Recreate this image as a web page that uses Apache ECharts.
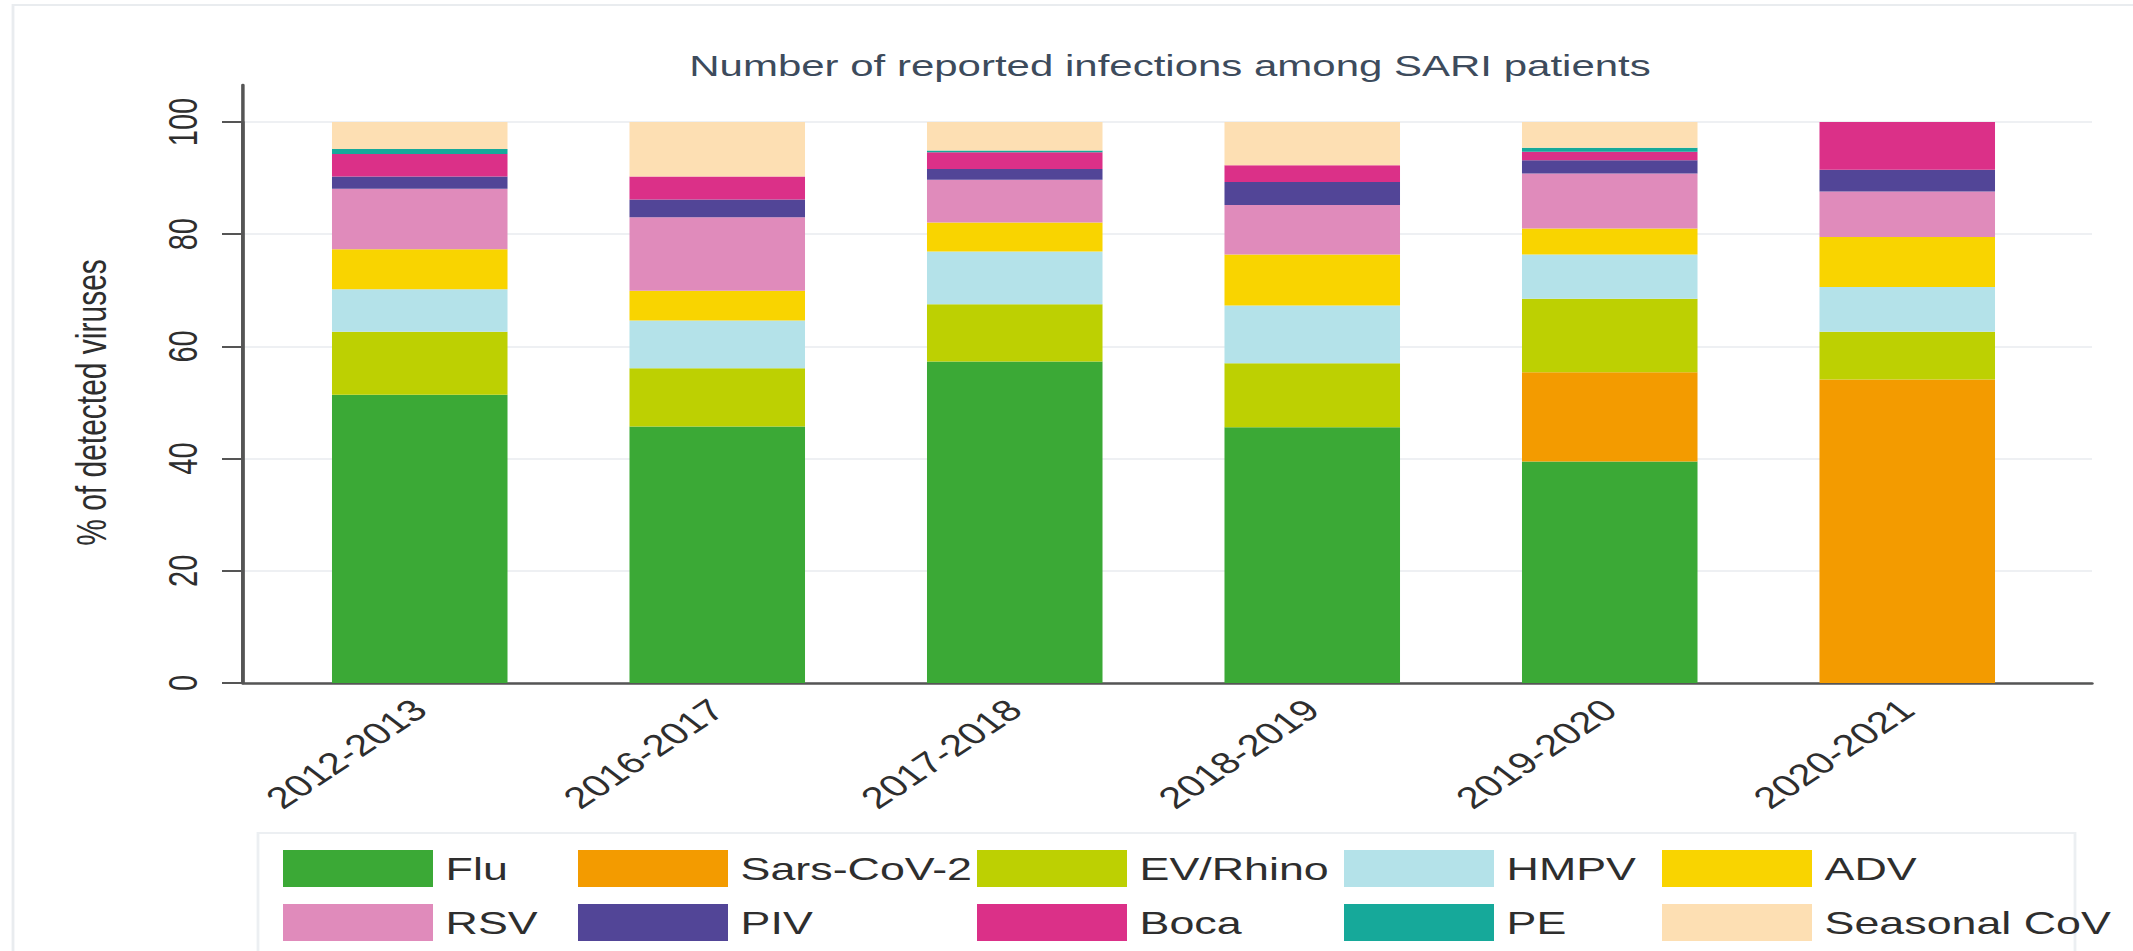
<!DOCTYPE html>
<html>
<head>
<meta charset="utf-8">
<script src="https://cdn.jsdelivr.net/npm/echarts@6/dist/echarts.min.js"></script>
<style>
html,body{margin:0;padding:0;background:#fff;overflow:hidden;width:2133px;height:951px;}
#chart{width:1524px;height:951px;transform:scaleX(1.4);transform-origin:0 0;}
</style>
</head>
<body>
<div id="chart"></div>
<script>
// ---- data ----
const seasons = ['2012-2013','2016-2017','2017-2018','2018-2019','2019-2020','2020-2021'];
const yTicks = [0, 20, 40, 60, 80, 100];
const flu      = [51.4, 45.7, 57.3, 45.6, 39.5, 0];
const sarsCoV2 = [0, 0, 0, 0, 15.9, 54.1];
const evRhino  = [11.2, 10.4, 10.2, 11.4, 13.1, 8.5];
const hmpv     = [7.6, 8.5, 9.4, 10.3, 7.9, 8.0];
const adv      = [7.1, 5.3, 5.2, 9.1, 4.6, 8.9];
const rsv      = [10.8, 13.1, 7.6, 8.8, 9.8, 8.1];
const piv      = [2.2, 3.2, 1.9, 4.1, 2.4, 3.9];
const boca     = [4.0, 4.1, 3.0, 3.0, 1.5, 8.5];
const pe       = [0.9, 0, 0.3, 0, 0.7, 0];
const seasonalCoV = [4.8, 9.7, 5.1, 7.7, 4.6, 0];

const seriesNames = ['Flu','Sars-CoV-2','EV/Rhino','HMPV','ADV','RSV','PIV','Boca','PE','Seasonal CoV'];
const seriesData  = [flu, sarsCoV2, evRhino, hmpv, adv, rsv, piv, boca, pe, seasonalCoV];
const colors = ['#3ba936','#f39b00','#bdd002','#b4e2e9','#f9d400','#e08bbb','#524597','#db3088','#16a99a','#fddfb3'];

// ---- layout (chart units; page is stretched horizontally by 1.4) ----
const SX = 1.4;
const W = 1524;
const px = v => v / SX;  // convert page x to chart x

const textColor = '#2e2e2e';
const fontMain = 'Liberation Sans, Arial, sans-serif';

const chart = echarts.init(document.getElementById('chart'), null, {renderer: 'svg'});

const legendCols = [
  {names: ['Flu','RSV'], left: px(283)},
  {names: ['Sars-CoV-2','PIV'], left: px(578)},
  {names: ['EV/Rhino','Boca'], left: px(977)},
  {names: ['HMPV','PE'], left: px(1344)},
  {names: ['ADV','Seasonal CoV'], left: px(1662)}
];

const option = {
  backgroundColor: '#ffffff',
  animation: false,
  color: colors,
  title: {
    text: 'Number of reported infections among SARI patients',
    left: px(1163), top: 46, textAlign: 'center',
    textStyle: {fontFamily: fontMain, fontSize: 30, fontWeight: 'normal', color: '#3d4b5c'}
  },
  legend: legendCols.map(c => ({
    data: c.names,
    orient: 'vertical',
    left: c.left, top: 850,
    icon: 'rect',
    itemWidth: px(150), itemHeight: 37,
    itemGap: 17,
    padding: 0,
    textStyle: {fontFamily: fontMain, fontSize: 32, color: textColor, padding: [0,0,0,4]},
    selectedMode: false
  })),
  graphic: [
    {type: 'rect', shape: {x: px(13), y: 5, width: W, height: 1200}, style: {fill: 'none', stroke: '#e9ecef', lineWidth: 2}, silent: true, z: -10},
    {type: 'rect', shape: {x: px(258), y: 833, width: px(2075 - 258), height: 300}, style: {fill: 'none', stroke: '#eceff2', lineWidth: 2}, silent: true, z: -10}
  ],
  grid: [
    // frame grid: y axis, gridlines, baseline
    {left: px(243), right: W - px(2092), top: 122, bottom: 268},
    // bar grid
    {left: px(271), right: W - px(2056), top: 122, bottom: 268},
    // axis-line extension above 100
    {left: px(243), right: W - px(2092), top: 85, bottom: 268}
  ],
  xAxis: [
    {gridIndex: 0, type: 'value', min: 0, max: 1,
     axisLine: {show: true, lineStyle: {color: '#555', width: 2.5}},
     axisTick: {show: false}, axisLabel: {show: false}, splitLine: {show: false}},
    {gridIndex: 1, type: 'category', data: seasons,
     axisLine: {show: false}, axisTick: {show: false},
     axisLabel: {rotate: 43, margin: 22, fontFamily: fontMain, fontSize: 30, color: textColor}},
    {gridIndex: 2, type: 'value', min: 0, max: 1, show: false}
  ],
  yAxis: [
    {gridIndex: 0, type: 'value', min: yTicks[0], max: yTicks[yTicks.length - 1], interval: 20,
     name: '% of detected viruses', nameLocation: 'middle', nameGap: 93, nameRotate: 90,
     nameTextStyle: {fontFamily: fontMain, fontSize: 30, color: textColor},
     axisLine: {show: true, lineStyle: {color: '#555', width: 2.5}},
     axisTick: {show: true, length: px(21), lineStyle: {color: '#555', width: 2}},
     axisLabel: {rotate: 90, margin: 29, fontFamily: fontMain, fontSize: 29, color: textColor},
     splitLine: {show: true, lineStyle: {color: '#eef0f3', width: 2}}},
    {gridIndex: 1, type: 'value', min: 0, max: 100, show: false},
    {gridIndex: 2, type: 'value', min: 0, max: 1, show: true,
     axisLine: {show: true, lineStyle: {color: '#555', width: 2.5}},
     axisTick: {show: false}, axisLabel: {show: false}, splitLine: {show: false}}
  ],
  series: seriesNames.map((name, i) => ({
    name: name,
    type: 'bar',
    stack: 'total',
    xAxisIndex: 1, yAxisIndex: 1,
    barWidth: '59%',
    itemStyle: {color: colors[i]},
    data: seriesData[i]
  }))
};
chart.setOption(option);
</script>
</body>
</html>
